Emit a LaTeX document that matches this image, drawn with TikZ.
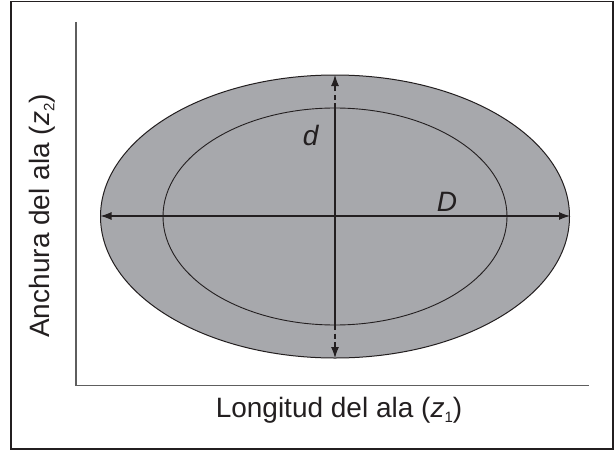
\documentclass[tikz,border=0pt]{standalone}
\usepackage{fontspec}
\setmainfont{Liberation Sans}
\usetikzlibrary{arrows.meta}
\definecolor{wingfill}{HTML}{A7A8AC}
\definecolor{axisgray}{HTML}{5E5E5E}
\definecolor{inkline}{HTML}{231F20}
\newcommand{\subidx}[1]{\raisebox{-0.35ex}{\fontsize{15}{15}\selectfont #1}}

\begin{document}
\begin{tikzpicture}[
    x=1pt, y=-1pt,
    >={Latex[length=11pt,width=8pt]},
    every node/.style={font=\fontsize{28}{32}\selectfont, text=inkline},
    dim/.style={inkline, line width=1.1pt},
    gap/.style={dim, dash pattern=on 5pt off 3.5pt},
]
\useasboundingbox (0,0) rectangle (615,452);
% outer frame
\draw[inkline, line width=1.6pt] (11,1.5) rectangle (613,449);
% axes
\draw[axisgray, line width=1.6pt] (76,22) -- (76,385.5) -- (589,385.5);
% wing size region: outer and inner ellipse
\coordinate (c) at (335,216.5);
\filldraw[fill=wingfill, draw=inkline, line width=1pt]
   (c) ellipse [x radius=234.5, y radius=141.5];
\draw[inkline, line width=0.9pt] (c) ellipse [x radius=172, y radius=108.5];
% end points of the diameters
\coordinate (L) at (100.5,216);
\coordinate (R) at (570,216);
\coordinate (T) at (335,75);
\coordinate (B) at (335,358);
\coordinate (ti) at (335,108);
\coordinate (bi) at (335,325);
% D across, d inside, dashed to the outer rim
\draw[dim, <->] (L) -- (R);
\draw[dim] (ti) -- (bi);
\draw[gap, ->] (ti) -- (T);
\draw[gap, ->] (bi) -- (B);
\node (dlab) at (311,135) {\textit{d}};
\node (Dlab) at (447,202) {\textit{D}};
% axis titles
\node (xlab) at (339,410) {Longitud del ala (\textit{z}\subidx{1})};
\node[rotate=90] (ylab) at (42,216) {Anchura del ala (\textit{z}\subidx{2})};
\end{tikzpicture}
\end{document}
